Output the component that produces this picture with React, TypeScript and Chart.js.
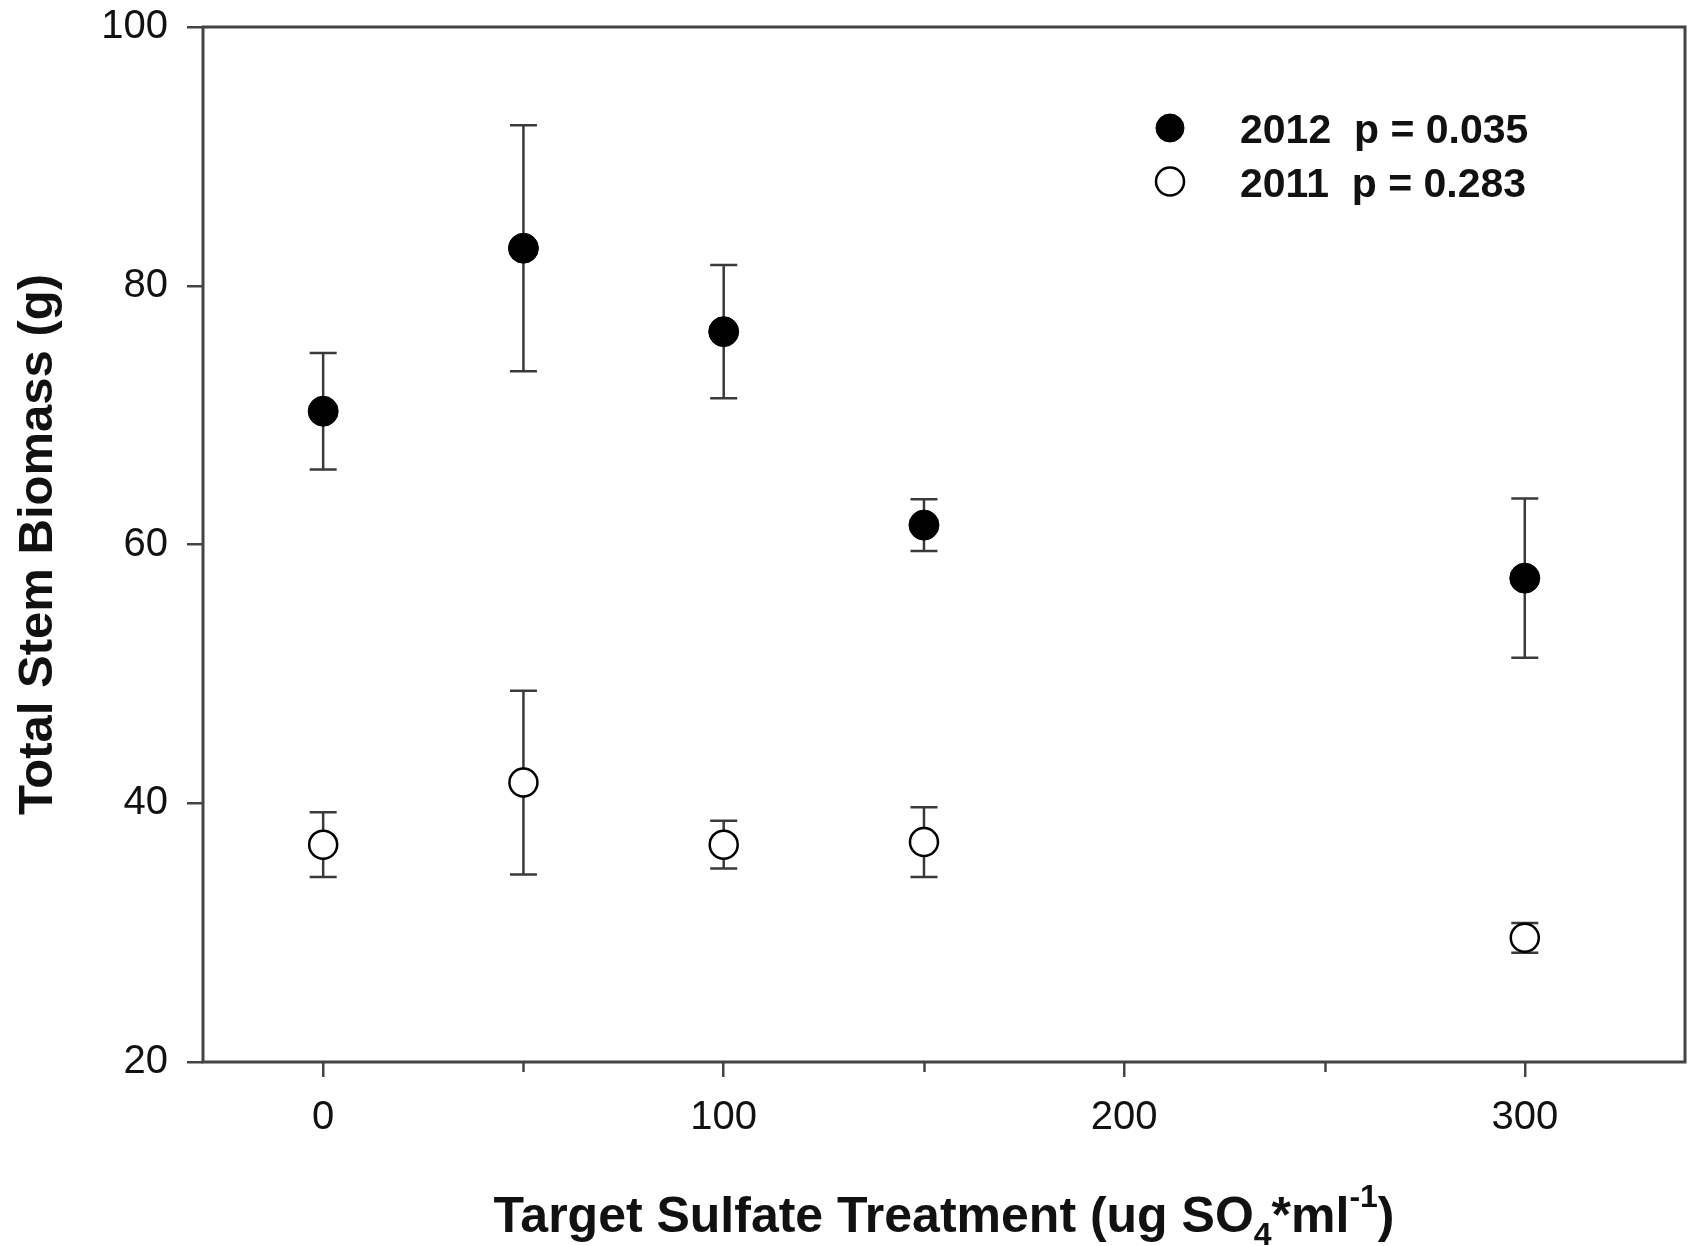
import { useEffect, useRef } from 'react';
import { Chart, registerables } from 'chart.js';

Chart.register(...registerables);

// ---- data ----
const treatments = [0, 50, 100, 150, 300];
const mean2012 = [70.3, 82.9, 76.45, 61.5, 57.4];
const se2012 = [4.5, 9.5, 5.15, 2.0, 6.15];
const mean2011 = [36.8, 41.6, 36.8, 37.0, 29.6];
const se2011 = [2.5, 7.1, 1.85, 2.7, 1.15];
const xMajorTicks = [0, 100, 200, 300];
const xMinorTicks = [50, 150, 250];
const yTickStep = 20;
const legendLabels = ['2012  p = 0.035', '2011  p = 0.283'];
const yTitle = 'Total Stem Biomass (g)';
const xTitleParts = [
  { t: 'Target Sulfate Treatment (ug SO', k: 'n' },
  { t: '4', k: 'sub' },
  { t: '*ml', k: 'n' },
  { t: '-1', k: 'sup' },
  { t: ')', k: 'n' },
];

const FONT = '"Liberation Sans", Arial, Helvetica, sans-serif';
const AXIS = '#444444';
const BAR = '#3a3a3a';
const TEXT = '#111111';

const customPlugin = {
  id: 'custom',
  beforeDatasetsDraw(chart: any, _args: any, opts: any) {
    const { ctx, chartArea, scales } = chart;
    const x = scales.x;
    const y = scales.y;
    ctx.save();
    // frame
    ctx.strokeStyle = AXIS;
    ctx.lineWidth = 3;
    ctx.strokeRect(chartArea.left, chartArea.top, chartArea.right - chartArea.left, chartArea.bottom - chartArea.top);
    // minor x ticks
    ctx.lineWidth = 2.5;
    ctx.beginPath();
    xMinorTicks.forEach((v) => {
      const px = Math.round(x.getPixelForValue(v)) + 0.5;
      ctx.moveTo(px, chartArea.bottom);
      ctx.lineTo(px, chartArea.bottom + 10);
    });
    ctx.stroke();
    // error bars
    const errs: number[][] = opts.errors;
    ctx.strokeStyle = BAR;
    ctx.lineWidth = 2.5;
    chart.data.datasets.forEach((ds: any, di: number) => {
      ds.data.forEach((p: any, i: number) => {
        const e = errs[di][i];
        const px = x.getPixelForValue(p.x);
        const top = y.getPixelForValue(p.y + e);
        const bot = y.getPixelForValue(p.y - e);
        ctx.beginPath();
        ctx.moveTo(px, top);
        ctx.lineTo(px, bot);
        ctx.moveTo(px - 13.5, top);
        ctx.lineTo(px + 13.5, top);
        ctx.moveTo(px - 13.5, bot);
        ctx.lineTo(px + 13.5, bot);
        ctx.stroke();
      });
    });
    ctx.restore();
  },
  afterDraw(chart: any) {
    const { ctx, chartArea } = chart;
    ctx.save();
    ctx.fillStyle = TEXT;
    // y title
    const cy = (chartArea.top + chartArea.bottom) / 2;
    ctx.save();
    ctx.translate(52, cy);
    ctx.rotate(-Math.PI / 2);
    ctx.font = `bold 49px ${FONT}`;
    ctx.textAlign = 'center';
    ctx.textBaseline = 'alphabetic';
    ctx.fillText(yTitle, 0, 0);
    ctx.restore();

    // x title with sub/superscript
    const mainFont = `bold 50px ${FONT}`;
    const smallFont = `bold 32px ${FONT}`;
    let total = 0;
    const widths = xTitleParts.map((p) => {
      ctx.font = p.k === 'n' ? mainFont : smallFont;
      const w = ctx.measureText(p.t).width;
      total += w;
      return w;
    });
    const cx = (chartArea.left + chartArea.right) / 2;
    let xx = cx - total / 2;
    const base = 1232;
    ctx.textAlign = 'left';
    ctx.textBaseline = 'alphabetic';
    xTitleParts.forEach((p, i) => {
      ctx.font = p.k === 'n' ? mainFont : smallFont;
      const dy = p.k === 'sub' ? 13 : p.k === 'sup' ? -25 : 0;
      ctx.fillText(p.t, xx, base + dy);
      xx += widths[i];
    });

    // legend
    const rows = [128, 181.5];
    chart.data.datasets.forEach((ds: any, i: number) => {
      const my = rows[i];
      ctx.beginPath();
      ctx.arc(1170, my, 14, 0, Math.PI * 2);
      ctx.fillStyle = ds.backgroundColor;
      ctx.fill();
      ctx.lineWidth = ds.borderWidth;
      ctx.strokeStyle = ds.borderColor;
      ctx.stroke();
      ctx.fillStyle = TEXT;
      ctx.font = `bold 41px ${FONT}`;
      ctx.textAlign = 'left';
      ctx.textBaseline = 'alphabetic';
      ctx.fillText(ds.label, 1240, my + 15);
    });
    ctx.restore();
  },
};

export default function App() {
  const ref = useRef<HTMLCanvasElement>(null);
  useEffect(() => {
    if (!ref.current) return;
    const chart = new Chart(ref.current, {
      type: 'scatter',
      data: {
        datasets: [
          {
            label: legendLabels[0],
            data: treatments.map((x, i) => ({ x, y: mean2012[i] })),
            pointRadius: 15,
            pointHoverRadius: 15,
            backgroundColor: '#000000',
            borderColor: '#000000',
            borderWidth: 1,
            showLine: false,
          },
          {
            label: legendLabels[1],
            data: treatments.map((x, i) => ({ x, y: mean2011[i] })),
            pointRadius: 14,
            pointHoverRadius: 14,
            backgroundColor: '#ffffff',
            borderColor: '#000000',
            borderWidth: 2.5,
            showLine: false,
          },
        ],
      },
      options: {
        responsive: false,
        animation: false,
        devicePixelRatio: 1,
        events: [],
        layout: { autoPadding: false, padding: { top: 27, right: 7, left: 0, bottom: 0 } },
        plugins: {
          legend: { display: false },
          tooltip: { enabled: false },
          custom: { errors: [se2012, se2011] },
        } as any,
        scales: {
          x: {
            type: 'linear',
            min: -30,
            max: 340,
            afterBuildTicks: (s: any) => {
              s.ticks = xMajorTicks.map((v) => ({ value: v }));
            },
            afterFit: (s: any) => {
              s.height = 184;
              s.paddingLeft = 0;
              s.paddingRight = 0;
              s.paddingTop = 0;
              s.paddingBottom = 0;
            },
            ticks: {
              font: { family: FONT, size: 40 },
              color: TEXT,
              padding: 17,
              maxRotation: 0,
              autoSkip: false,
              callback: (v: any) => String(v),
            },
            grid: { drawOnChartArea: false, drawTicks: true, tickLength: 15, color: AXIS, lineWidth: 2.5 },
            border: { display: false },
          },
          y: {
            type: 'linear',
            min: 20,
            max: 100,
            afterFit: (s: any) => {
              s.width = 203;
              s.paddingLeft = 0;
              s.paddingRight = 0;
              s.paddingTop = 0;
              s.paddingBottom = 0;
            },
            ticks: {
              stepSize: yTickStep,
              font: { family: FONT, size: 40 },
              color: TEXT,
              padding: 19,
              callback: (v: any) => String(v),
            },
            grid: { drawOnChartArea: false, drawTicks: true, tickLength: 16, color: AXIS, lineWidth: 2.5 },
            border: { display: false },
          },
        },
      } as any,
      plugins: [customPlugin],
    });
    return () => chart.destroy();
  }, []);
  return (
    <div style={{ position: 'fixed', left: 0, top: 0, width: 1692, height: 1246, background: '#ffffff' }}>
      <canvas ref={ref} width={1692} height={1246} style={{ display: 'block', width: 1692, height: 1246 }} />
    </div>
  );
}
